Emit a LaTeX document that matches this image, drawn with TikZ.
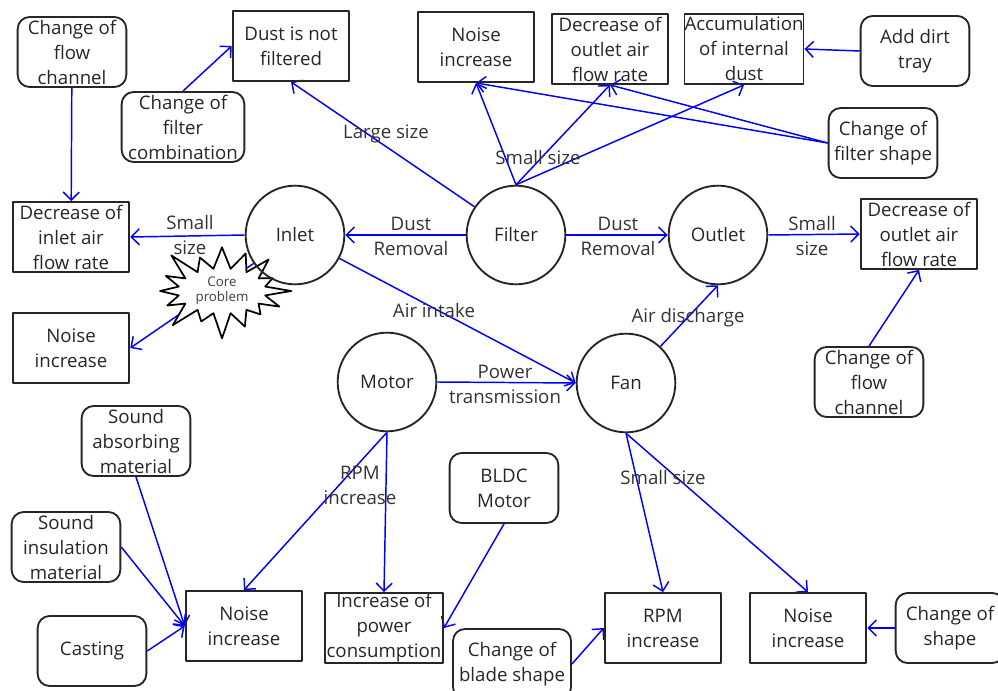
\documentclass[tikz,border=0pt]{standalone}
\usepackage{fontspec}
\setmainfont{Open Sans}
\usetikzlibrary{arrows.meta,shapes.symbols,backgrounds}

\begin{document}
\begin{tikzpicture}[x=0.75pt, y=-0.75pt, line cap=round, line join=round,
    font=\fontsize{14pt}{18.75pt}\selectfont]
  \tikzset{
    effect/.style={draw=black!85, line width=1.4pt, minimum width=87.5pt, minimum height=52.5pt,
      inner sep=0pt, align=center, text=black!85},
    cause/.style={effect, rounded corners=9pt, minimum width=81.5pt},
    partnode/.style={circle, draw=black!85, line width=1.4pt, minimum size=74pt, inner sep=0pt, text=black!85},
    link/.style={draw=blue, line width=1.1pt, -{Straight Barb[length=6pt, width=12pt]}},
    tag/.style={align=center, text=black!80, inner sep=0pt},
    corestar/.style={starburst, starburst points=16, starburst point height=22pt, draw=black, fill=white,
      line width=1.3pt, minimum width=110pt, minimum height=78pt, inner sep=0pt, align=center,
      text=black!75, font=\fontsize{10pt}{11pt}\selectfont}
  }
  \useasboundingbox (0,0) rectangle (998,691);

  % causes
  \node[cause] (flowL) at (72,52) {Change of\\flow\\channel};
  \node[cause, minimum width=92pt] (comb) at (183,127) {Change of\\filter\\combination};
  \node[cause] (tray) at (915,51) {Add dirt\\tray};
  \node[cause] (fshape) at (883,143) {Change of\\filter shape};
  \node[cause] (flowR) at (869,382) {Change of\\flow\\channel};
  \node[cause] (absorb) at (136,441) {Sound\\absorbing\\material};
  \node[cause] (insul) at (66,547) {Sound\\insulation\\material};
  \node[cause] (cast) at (92,651) {Casting};
  \node[cause] (bldc) at (504,488) {BLDC\\Motor};
  \node[cause, minimum width=88.5pt] (blade) at (512,664) {Change of\\blade shape};
  \node[cause] (oshape) at (950,628) {Change of\\shape};

  % effects
  \node[effect] (dust) at (291,46) {Dust is not\\filtered};
  \node[effect] (noiseT) at (476,47) {Noise\\increase};
  \node[effect] (outT) at (610,49) {Decrease of\\outlet air\\flow rate};
  \node[effect] (accum) at (744,49) {Accumulation\\of internal\\dust};
  \node[effect] (inflow) at (71,237) {Decrease of\\inlet air\\flow rate};
  \node[effect] (noiseL) at (71,348) {Noise\\increase};
  \node[effect] (outR) at (919,234) {Decrease of\\outlet air\\flow rate};
  \node[effect] (noiseB) at (244,626) {Noise\\increase};
  \node[effect, minimum width=88.5pt] (power) at (384,628) {Increase of\\power\\consumption};
  \node[effect] (rpm) at (663,628) {RPM\\increase};
  \node[effect] (noiseR) at (808,628) {Noise\\increase};

  \node[corestar] (core) at (222,291) {Core\\problem};

  % parts
  \node[partnode] (inlet) at (295,235) {Inlet};
  \node[partnode] (filter) at (516,235) {Filter};
  \node[partnode] (outlet) at (718,235) {Outlet};
  \node[partnode] (motor) at (387,382) {Motor};
  \node[partnode] (fan) at (626,383) {Fan};

  % labels
  \node[tag] (tLarge) at (386,134) {Large size};
  \node[tag] (tSmallF) at (538,158) {Small size};
  \node[tag] (tSmallI) at (190,235) {Small\\size};
  \node[tag] (tDustI) at (411,236) {Dust\\Removal};
  \node[tag] (tDustO) at (618,236) {Dust\\Removal};
  \node[tag] (tSmallO) at (812,236) {Small\\size};
  \node[tag] (tIntake) at (434,310) {Air intake};
  \node[tag] (tDisch) at (688,318) {Air discharge};
  \node[tag] (tPower) at (505,384) {Power\\transmission};
  \node[tag] (tRpm) at (360,485) {RPM\\increase};
  \node[tag] (tSmallB) at (663,477) {Small size};

  \begin{pgfonlayer}{background}
    \draw[link] (flowL) -- (inflow);
    \draw[link] (comb.north) -- (dust.west);
    \draw[link] (filter) -- (dust.south);
    \draw[link] (filter.north) -- (noiseT.south);
    \draw[link] (filter.north) -- (outT.south);
    \draw[link] (filter.north) -- (accum.south);
    \draw[link] (fshape.west) -- (noiseT.south);
    \draw[link] (fshape.west) -- (outT.south);
    \draw[link] (tray.west) -- (accum.east);
    \draw[link] (inlet.west) -- (inflow.east);
    \draw[link] (inlet) -- (noiseL.east);
    \draw[link] (filter.west) -- (inlet.east);
    \draw[link] (filter.east) -- (outlet.west);
    \draw[link] (outlet.east) -- (outR.west);
    \draw[link] (flowR.north) -- (outR.south);
    \draw[link] (inlet) -- (fan.west);
    \draw[link] (fan) -- (outlet.south);
    \draw[link] (motor.east) -- (fan.west);
    \draw[link] (motor.south) -- (noiseB.north);
    \draw[link] (motor.south) -- (power.north);
    \draw[link] (bldc.south) -- (power.east);
    \draw[link] (absorb.south) -- (noiseB.west);
    \draw[link] (insul.east) -- (noiseB.west);
    \draw[link] (cast.east) -- (noiseB.west);
    \draw[link] (blade.east) -- (rpm.west);
    \draw[link] (fan.south) -- (rpm.north);
    \draw[link] (fan.south) -- (noiseR.north);
    \draw[link] (oshape.west) -- (noiseR.east);
  \end{pgfonlayer}
\end{tikzpicture}
\end{document}
